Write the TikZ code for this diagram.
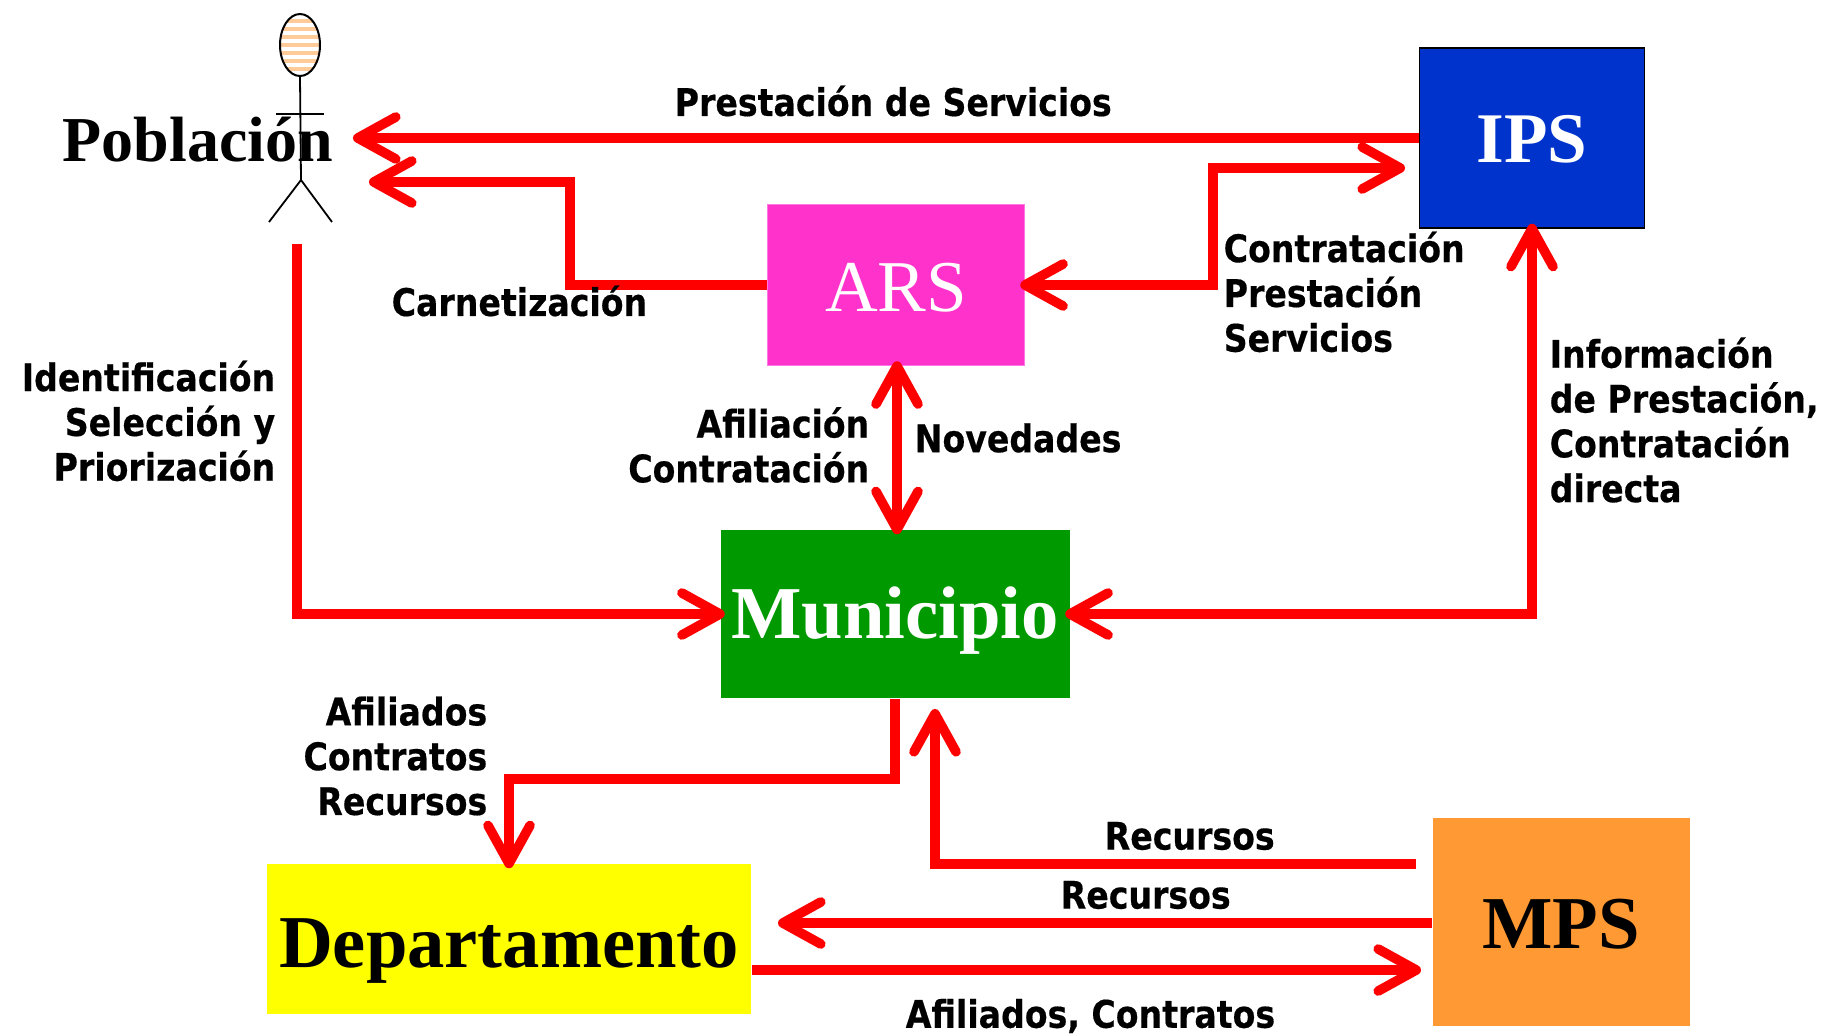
\documentclass[tikz,border=0pt]{standalone}
\usepackage{fontspec}
\setmainfont{Liberation Serif}
\newfontfamily\labelfont{DejaVu Sans Condensed}[BoldFont={DejaVu Sans Condensed Bold},BoldFeatures={FakeStretch=0.97,FakeBold=0.4}]
\usetikzlibrary{arrows.meta,shapes.geometric}

\tikzset{every picture/.style={line width=0.75pt}}
\tikzset{
  bignode/.style={rectangle,inner sep=0pt,font=\fontsize{37.3}{40}\selectfont\bfseries},
  flow/.style={draw={rgb,255:red,255;green,0;blue,0},line width=4.8pt,line join=miter,-{Straight Barb[length=19pt,width=21pt,round]}},
  flowboth/.style={flow,{Straight Barb[length=19pt,width=21pt,round]}-{Straight Barb[length=19pt,width=21pt,round]},shorten <=-2.5pt},
  intobox/.style={shorten >=-2.5pt},
  flowlabel/.style={inner sep=0pt,align=left,font=\labelfont\bfseries\fontsize{19}{22.4}\selectfont},
  figureline/.style={draw=black,line width=0.9pt}
}
\newcommand{\dropby}[2]{\raisebox{-#1}[\height][\depth]{#2}}

\begin{document}
\begin{tikzpicture}[x=0.5pt,y=-0.5pt]
\useasboundingbox (0,0) rectangle (1821,1035);

% Boxes
\node [bignode,draw=black,fill={rgb,255:red,0;green,51;blue,204},text=white,font=\fontsize{35.6}{40}\selectfont\bfseries,minimum width=225*0.5pt,minimum height=180*0.5pt] (ips) at (1532,138) {\dropby{0.5pt}{IPS}};
\node [bignode,draw={rgb,255:red,255;green,120;blue,225},fill={rgb,255:red,255;green,51;blue,204},text=white,font=\fontsize{36.5}{40}\selectfont,minimum width=257*0.5pt,minimum height=161*0.5pt] (ars) at (896,285) {\dropby{1.2pt}{ARS}};
\node [bignode,fill={rgb,255:red,0;green,153;blue,0},text=white,minimum width=349*0.5pt,minimum height=168*0.5pt] (municipio) at (895,614) {\dropby{3.5pt}{Municipio}};
\node [bignode,fill={rgb,255:red,255;green,255;blue,0},minimum width=484*0.5pt,minimum height=150*0.5pt] (departamento) at (509,939) {\dropby{5.8pt}{Departamento}};
\node [bignode,fill={rgb,255:red,255;green,153;blue,51},minimum width=257*0.5pt,minimum height=208*0.5pt] (mps) at (1561,922) {\dropby{1.2pt}{MPS}};

% Stick figure
\node [ellipse,draw=black,line width=1pt,inner sep=0pt,minimum width=40*0.5pt,minimum height=62*0.5pt,
  path picture={\foreach \ypos in {-24,-16,...,24} {\draw [draw={rgb,255:red,255;green,204;blue,153},line width=2pt] ([yshift=\ypos*0.5pt]path picture bounding box.west) -- ([yshift=\ypos*0.5pt]path picture bounding box.east);}}] (head) at (300,45) {};
\coordinate (hip) at (301,180);
\coordinate (handl) at (276,114);
\coordinate (handr) at (324,114);
\coordinate (footl) at (269,222);
\coordinate (footr) at (332,222);
\draw [figureline] (head.south) -- (hip);
\draw [figureline] (handl) -- (handr);
\draw [figureline] (footl) -- (hip) -- (footr);
\node [bignode,font=\fontsize{32}{36}\selectfont\bfseries] (poblacion) at (198,140) {Población};

% Free ends of the connectors
\coordinate (pobtop) at (353,138);
\coordinate (pobmid) at (369,182);
\coordinate (pobout) at (297,244);
\coordinate (mpsup) at (1416,864);
\coordinate (munup) at (935,709);
\coordinate (ipsin) at (1405,168);
\coordinate (depin) at (778,923);
\coordinate (mpsin) at (1421,970);

% Connectors
\draw [flow] (ips.west |- pobtop) -- (pobtop);
\draw [flow] (ars.west) -- (570,285) -- (570,182) -- (pobmid);
\draw [flowboth] (ars.east) -- (1213,285) -- (1213,168) -- (ipsin);
\draw [flowboth,intobox] (ars.south -| 897,0) -- (municipio.north -| 897,0);
\draw [flow,intobox] (pobout) -- (297,614) -- (municipio.west);
\draw [flowboth,intobox] (ips.south) -- (1532,614) -- (municipio.east);
\draw [flow,intobox] (municipio.south) -- (895,779) -- (509,779) -- (departamento.north);
\draw [flow] (mpsup) -- (935,864) -- (munup);
\draw [flow] (mps.west |- depin) -- (depin);
\draw [flow] (departamento.east |- mpsin) -- (mpsin);

% Text Node
\node [flowlabel,anchor=west] (prestacion) at (674,101) {Prestación de Servicios};
\node [flowlabel,anchor=west] (carnet) at (391,301) {Carnetización};
\node [flowlabel,anchor=east,align=right] (identifica) at (276,421) {Identificación\\Selección y\\Priorización};
\node [flowlabel,anchor=east,align=right] (afiliacion) at (870,445) {Afiliación\\Contratación};
\node [flowlabel,anchor=west] (novedades) at (914,438) {Novedades};
\node [flowlabel,anchor=west] (contrata) at (1223,292) {Contratación\\Prestación\\Servicios};
\node [flowlabel,anchor=west] (informa) at (1549,420) {Información\\de Prestación,\\Contratación\\directa};
\node [flowlabel,anchor=east,align=right] (afiliados) at (488,756) {Afiliados\\Contratos\\Recursos};
\node [flowlabel,anchor=west] (recursosa) at (1104,836) {Recursos};
\node [flowlabel,anchor=west] (recursosb) at (1060,895) {Recursos};
\node [flowlabel,anchor=west] (afilcon) at (905,1016) {Afiliados, Contratos};

\end{tikzpicture}
\end{document}
